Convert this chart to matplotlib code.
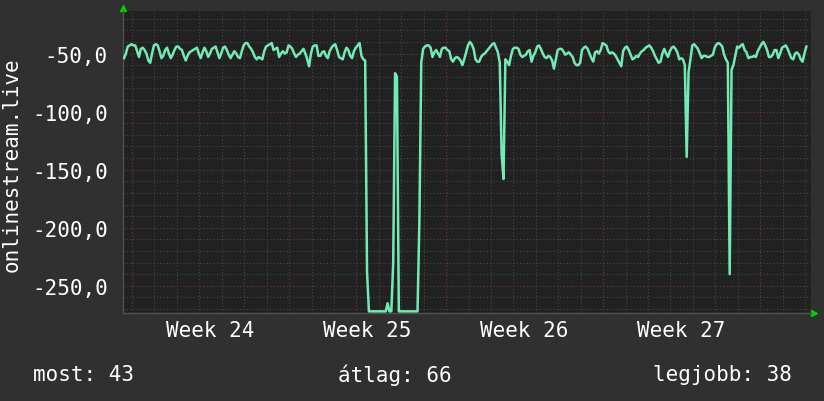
import numpy as np
import matplotlib
matplotlib.use("Agg")
import matplotlib.pyplot as plt

# 2-hourly samples, one row per day
ping = [
    -54, -50, -44, -43, -42, -43, -43, -48, -53, -46, -45, -47,
    -50, -56, -58, -50, -43, -42, -43, -48, -54, -52, -47, -45,
    -50, -54, -51, -47, -44, -44, -46, -47, -52, -56, -52, -49,
    -48, -47, -46, -45, -50, -54, -49, -45, -48, -53, -50, -46,
    -45, -44, -49, -54, -50, -45, -44, -47, -51, -54, -51, -48,
    -50, -53, -54, -48, -43, -41, -41, -44, -46, -49, -53, -55,
    -53, -54, -55, -48, -44, -43, -42, -41, -47, -46, -45, -53,
    -50, -48, -50, -49, -43, -44, -46, -50, -53, -51, -50, -48,
    -46, -50, -55, -61, -50, -44, -43, -43, -52, -52, -49, -48,
    -52, -54, -48, -45, -43, -42, -47, -53, -54, -55, -49, -45,
    -47, -52, -54, -48, -45, -43, -41, -52, -55, -56, -238, -272,
    -272, -272, -272, -272, -272, -272, -272, -272, -272, -265, -272, -272,
    -230, -67, -70, -272, -272, -272, -272, -272, -272, -272, -272, -272,
    -272, -272, -195, -58, -46, -44, -43, -43, -45, -53, -49, -47,
    -50, -53, -46, -45, -45, -47, -48, -55, -57, -54, -53, -54,
    -56, -60, -55, -49, -43, -40, -42, -46, -55, -57, -57, -53,
    -51, -50, -48, -46, -44, -42, -41, -45, -49, -58, -137, -158,
    -55, -57, -60, -52, -46, -45, -45, -46, -51, -53, -52, -51,
    -48, -47, -57, -52, -49, -44, -43, -46, -50, -53, -54, -52,
    -53, -56, -63, -55, -47, -46, -46, -48, -51, -50, -49, -51,
    -53, -58, -60, -60, -58, -47, -45, -44, -46, -50, -54, -57,
    -49, -48, -50, -47, -41, -42, -43, -48, -50, -49, -50, -52,
    -55, -58, -61, -48, -45, -44, -47, -51, -55, -54, -52, -53,
    -50, -48, -47, -45, -44, -43, -45, -48, -52, -55, -58, -57,
    -50, -46, -50, -53, -48, -45, -44, -46, -49, -55, -54, -55,
    -60, -139, -66, -55, -43, -42, -44, -46, -50, -54, -52, -52,
    -53, -53, -52, -51, -45, -42, -41, -42, -44, -51, -55, -58,
    -240, -64, -60, -52, -44, -45, -43, -42, -47, -49, -54, -53,
    -53, -52, -53, -48, -45, -42, -40, -43, -47, -53, -53, -51,
    -47, -47, -54, -50, -45, -44, -43, -46, -50, -54, -55, -50,
    -49, -51, -55, -57, -50, -44,
]
hours = np.arange(len(ping)) * 2

week_labels = ["Week 24", "Week 25", "Week 26", "Week 27"]
week_start = 8.6  # hour of first Monday 00:00
ytick_vals = [-50, -100, -150, -200, -250]
ytick_labels = ["-50,0", "-100,0", "-150,0", "-200,0", "-250,0"]
ylabel = "onlinestream.live"
stats = ["most: 43", "átlag: 66", "legjobb: 38"]

plt.rcParams["font.family"] = ["DejaVu Sans Mono"]
W, H = 824, 402
fig = plt.figure(figsize=(W / 100, H / 100), dpi=100, facecolor="#303030")
ax = fig.add_axes([123 / W, 1 - 314 / H, 688 / W, 302 / H], facecolor="#212121")

xmin, xmax = -1.1, 735
ymin, ymax = -273.4, -13.4
ax.set_xlim(xmin, xmax)
ax.set_ylim(ymin, ymax)

dot = (0, (1, 2))
# minor grid
for d in np.arange(week_start, xmax, 24):
    ax.axvline(d, color="#464646", lw=0.8, ls=dot, zorder=1)
for v in np.arange(-270, ymax, 10):
    ax.axhline(v, color="#484848", lw=0.8, ls=dot, zorder=1)
# major grid
for w in np.arange(week_start, xmax, 168):
    ax.axvline(w, color="#6a2c2c", lw=0.8, ls=dot, zorder=1.5)
for v in ytick_vals:
    ax.axhline(v, color="#6a2c2c", lw=0.8, ls=dot, zorder=1.5)

ax.plot(hours, ping, color="#72eab4", lw=1.8, zorder=3)

ax.set_yticks(ytick_vals)
ax.set_yticklabels(ytick_labels)
mids = [week_start + 84 + 168 * i for i in range(len(week_labels))]
ax.set_xticks(mids)
ax.set_xticklabels(week_labels)
ax.tick_params(axis="both", length=0, colors="white", labelsize=15)
ax.tick_params(axis="y", pad=11)
ax.tick_params(axis="x", pad=5)

for s in ["top", "right"]:
    ax.spines[s].set_visible(False)
for s in ["left", "bottom"]:
    ax.spines[s].set_color("#505050")
    ax.spines[s].set_linewidth(1)

ax.plot([0], [1.01], marker="^", color="#00d000", ms=5, transform=ax.transAxes, clip_on=False)
ax.plot([1.005], [0], marker=">", color="#00d000", ms=5, transform=ax.transAxes, clip_on=False)

fig.text(12 / W, 1 - 165 / H, ylabel, rotation=90, color="white", fontsize=15,
         ha="center", va="center")
ty = 1 - 375 / H
fig.text(33 / W, ty, stats[0], color="white", fontsize=15, ha="left", va="center")
fig.text(395 / W, ty, stats[1], color="white", fontsize=15, ha="center", va="center")
fig.text(792 / W, ty, stats[2], color="white", fontsize=15, ha="right", va="center")

fig.savefig("out.png", dpi=100, facecolor=fig.get_facecolor())
